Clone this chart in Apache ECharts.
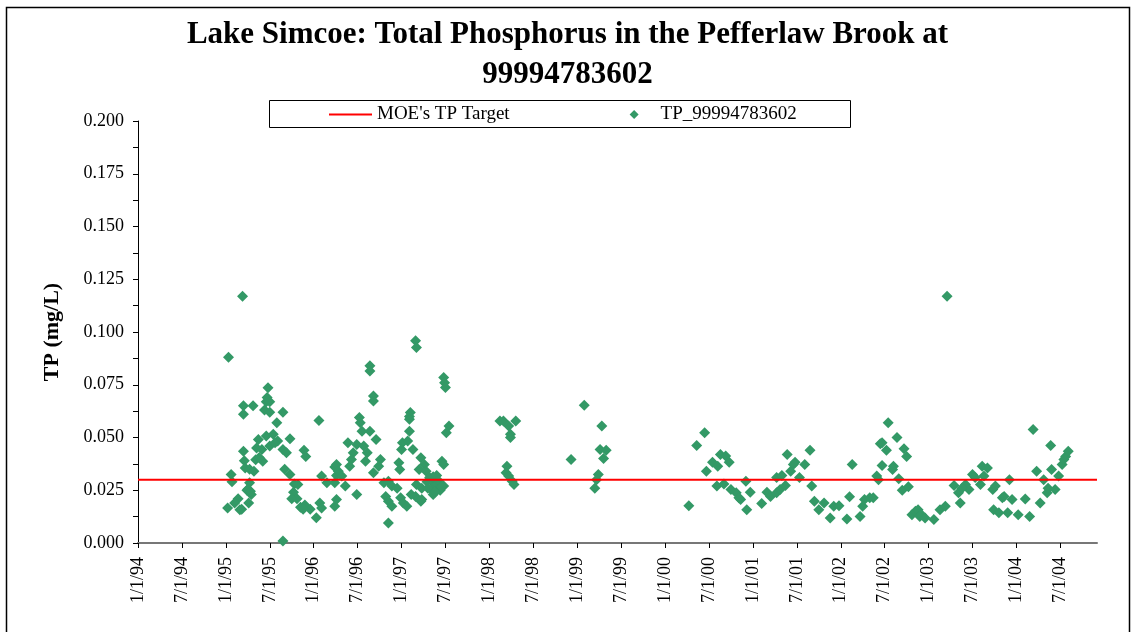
<!DOCTYPE html>
<html>
<head>
<meta charset="utf-8">
<script src="https://cdn.jsdelivr.net/npm/echarts@6/dist/echarts.min.js"></script>
<style>
  html, body { margin: 0; padding: 0; background: #fff; }
  #main { width: 1135px; height: 632px; }
</style>
</head>
<body>
<div id="main"></div>
<script>
  // sample dates as decimal years, TP in mg/L
  var samples1995 = [
    [1995.03, 0.088], [1995.19, 0.117], [1995.20, 0.065], [1995.20, 0.061], [1995.31, 0.065],
    [1995.46, 0.067], [1995.44, 0.063], [1995.50, 0.062], [1995.65, 0.062], [1995.58, 0.057],
    [1995.48, 0.0736], [1995.47, 0.069], [1995.50, 0.067], [1995.37, 0.049], [1995.46, 0.0507],
    [1995.54, 0.0515], [1995.59, 0.0483], [1995.73, 0.0494], [1995.41, 0.0443], [1995.50, 0.046],
    [1995.65, 0.0443], [1995.69, 0.0428], [1995.56, 0.0475], [1995.35, 0.045], [1995.42, 0.0388],
    [1995.20, 0.0435], [1995.21, 0.039], [1995.22, 0.0356], [1995.27, 0.035], [1995.32, 0.034],
    [1995.34, 0.0395], [1995.38, 0.0405], [1995.89, 0.044], [1995.91, 0.041], [1995.06, 0.0325],
    [1995.07, 0.029], [1995.67, 0.035], [1995.73, 0.0325], [1995.78, 0.028], [1995.82, 0.0277],
    [1995.27, 0.0285], [1995.24, 0.025], [1995.29, 0.023], [1995.26, 0.019], [1995.14, 0.021],
    [1995.10, 0.019], [1995.02, 0.0166], [1995.16, 0.0158], [1995.77, 0.024], [1995.81, 0.021],
    [1995.75, 0.021], [1995.90, 0.018], [1995.96, 0.016], [1995.65, 0.001], [1995.25, 0.0255],
    [1995.28, 0.0245], [1995.18, 0.016], [1995.85, 0.017], [1995.88, 0.016]
  ];
  var samples1996 = [
    [1996.03, 0.012], [1996.06, 0.058], [1996.07, 0.019], [1996.09, 0.0317], [1996.09, 0.0166],
    [1996.15, 0.0285], [1996.24, 0.036], [1996.26, 0.032], [1996.24, 0.0174], [1996.26, 0.0372],
    [1996.28, 0.034], [1996.24, 0.0285], [1996.36, 0.027], [1996.26, 0.0206], [1996.32, 0.0317],
    [1996.49, 0.023], [1996.64, 0.084], [1996.64, 0.0815], [1996.68, 0.0697], [1996.68, 0.0673],
    [1996.52, 0.0595], [1996.53, 0.057], [1996.55, 0.053], [1996.64, 0.053], [1996.71, 0.049],
    [1996.39, 0.0475], [1996.49, 0.0467], [1996.57, 0.046], [1996.61, 0.0428], [1996.59, 0.0388],
    [1996.45, 0.0428], [1996.43, 0.0396], [1996.41, 0.0364], [1996.76, 0.0396], [1996.74, 0.0364],
    [1996.68, 0.0333], [1996.80, 0.0285], [1996.85, 0.0293], [1996.89, 0.027], [1996.82, 0.022],
    [1996.85, 0.0198], [1996.89, 0.0174], [1996.99, 0.0214], [1996.95, 0.026], [1996.85, 0.0095],
    [1996.97, 0.038], [1996.98, 0.0348]
  ];
  var samples1997 = [
    [1997.16, 0.0958], [1997.17, 0.0927], [1997.10, 0.0618], [1997.09, 0.060], [1997.09, 0.0586],
    [1997.09, 0.053], [1997.48, 0.0784], [1997.49, 0.076], [1997.50, 0.0737], [1997.54, 0.0554],
    [1997.51, 0.0523], [1997.01, 0.0475], [1997.07, 0.0483], [1997.13, 0.0443], [1997.00, 0.0443],
    [1997.02, 0.019], [1997.06, 0.0174], [1997.22, 0.0404], [1997.26, 0.0372], [1997.20, 0.0348],
    [1997.28, 0.034], [1997.17, 0.0277], [1997.23, 0.026], [1997.22, 0.0198], [1997.16, 0.022],
    [1997.11, 0.023], [1997.32, 0.031], [1997.36, 0.0285], [1997.40, 0.0277], [1997.34, 0.0253],
    [1997.44, 0.025], [1997.48, 0.027], [1997.36, 0.0314], [1997.40, 0.032], [1997.29, 0.029],
    [1997.30, 0.026], [1997.36, 0.023], [1997.46, 0.0388], [1997.48, 0.0372], [1997.23, 0.0206],
    [1997.42, 0.0295], [1997.45, 0.0265], [1997.38, 0.024]
  ];
  var samples1998 = [
    [1998.12, 0.0578], [1998.16, 0.0578], [1998.22, 0.0554], [1998.30, 0.0578], [1998.24, 0.0515],
    [1998.24, 0.050], [1998.20, 0.0364], [1998.19, 0.0333], [1998.22, 0.0317], [1998.26, 0.0293],
    [1998.28, 0.0277], [1998.93, 0.0396]
  ];
  var samples1999 = [
    [1999.08, 0.0653], [1999.28, 0.0554], [1999.26, 0.0443], [1999.33, 0.044], [1999.30, 0.040],
    [1999.24, 0.0325], [1999.22, 0.030], [1999.20, 0.026]
  ];
  var samples2000 = [
    [2000.27, 0.0177], [2000.36, 0.0462], [2000.45, 0.0523], [2000.47, 0.034], [2000.54, 0.0383],
    [2000.60, 0.0364], [2000.63, 0.042], [2000.69, 0.0412], [2000.73, 0.0383], [2000.59, 0.027],
    [2000.67, 0.028], [2000.75, 0.0253], [2000.81, 0.0238], [2000.86, 0.0206], [2000.84, 0.0214],
    [2000.92, 0.0293], [2000.93, 0.0158], [2000.97, 0.024]
  ];
  var samples2001 = [
    [2001.10, 0.0187], [2001.16, 0.024], [2001.20, 0.022], [2001.27, 0.0238], [2001.31, 0.0253],
    [2001.37, 0.0272], [2001.27, 0.031], [2001.33, 0.032], [2001.39, 0.042], [2001.48, 0.0383],
    [2001.43, 0.034], [2001.46, 0.0372], [2001.53, 0.031], [2001.59, 0.0372], [2001.65, 0.044],
    [2001.67, 0.027], [2001.70, 0.0198], [2001.75, 0.0158], [2001.81, 0.019], [2001.88, 0.0119],
    [2001.92, 0.0174], [2001.98, 0.0177]
  ];
  var samples2002 = [
    [2002.07, 0.0114], [2002.10, 0.0219], [2002.13, 0.0372], [2002.22, 0.0126], [2002.25, 0.0174],
    [2002.27, 0.0206], [2002.33, 0.0214], [2002.37, 0.0214], [2002.41, 0.0317], [2002.43, 0.030],
    [2002.47, 0.0367], [2002.45, 0.047], [2002.52, 0.044], [2002.54, 0.057], [2002.64, 0.050],
    [2002.47, 0.0475], [2002.72, 0.0447], [2002.75, 0.041], [2002.60, 0.0364], [2002.59, 0.0348],
    [2002.66, 0.0304], [2002.70, 0.025], [2002.77, 0.0266], [2002.81, 0.0134], [2002.85, 0.015],
    [2002.88, 0.0158], [2002.92, 0.0134], [2002.90, 0.0126], [2002.96, 0.0119]
  ];
  var samples2003 = [
    [2003.06, 0.0111], [2003.13, 0.0158], [2003.19, 0.0174], [2003.21, 0.117], [2003.29, 0.0272],
    [2003.34, 0.0238], [2003.36, 0.019], [2003.42, 0.0277], [2003.46, 0.0253], [2003.50, 0.0325],
    [2003.53, 0.031], [2003.59, 0.0277], [2003.61, 0.0364], [2003.67, 0.0356], [2003.63, 0.0317],
    [2003.38, 0.026], [2003.73, 0.0253], [2003.76, 0.027], [2003.74, 0.0158], [2003.80, 0.0143],
    [2003.84, 0.0214], [2003.90, 0.0143], [2003.92, 0.030], [2003.86, 0.022], [2003.95, 0.0206]
  ];
  var samples2004 = [
    [2004.02, 0.0134], [2004.10, 0.0209], [2004.15, 0.0126], [2004.19, 0.0538], [2004.23, 0.034],
    [2004.27, 0.019], [2004.31, 0.030], [2004.35, 0.0238], [2004.36, 0.026], [2004.40, 0.0348],
    [2004.44, 0.0253], [2004.48, 0.0317], [2004.39, 0.0462], [2004.52, 0.0372], [2004.54, 0.0396],
    [2004.56, 0.041], [2004.59, 0.0435]
  ];

  var tpTarget = 0.03;
  var xStart = 1994;
  var xEnd = 2004.917; // 12/1/04
  var tickLabels = ['1/1/94', '7/1/94', '1/1/95', '7/1/95', '1/1/96', '7/1/96', '1/1/97', '7/1/97',
    '1/1/98', '7/1/98', '1/1/99', '7/1/99', '1/1/00', '7/1/00', '1/1/01', '7/1/01',
    '1/1/02', '7/1/02', '1/1/03', '7/1/03', '1/1/04', '7/1/04'];
  var tickYears = tickLabels.map(function (s, i) { return xStart + i * 0.5; });

  var allSamples = [].concat(samples1995, samples1996, samples1997, samples1998, samples1999,
    samples2000, samples2001, samples2002, samples2003, samples2004);

  var serif = "'Liberation Serif', 'Times New Roman', serif";

  var chart = echarts.init(document.getElementById('main'));
  var option = {
    animation: false,
    backgroundColor: '#fff',
    title: {
      text: 'Lake Simcoe: Total Phosphorus in the Pefferlaw Brook at\n99994783602',
      left: 'center',
      top: 15,
      padding: 0,
      textStyle: { fontFamily: serif, fontWeight: 'bold', fontSize: 31, lineHeight: 40, color: '#000' }
    },
    legend: {
      left: 324,
      top: 100,
      itemWidth: 43,
      itemHeight: 9,
      itemGap: 120,
      textStyle: { fontFamily: serif, fontSize: 19, color: '#000' },
      data: [
        { name: "MOE's TP Target", icon: 'path://M0,0H43V2H0Z' },
        { name: 'TP_99994783602', icon: 'path://M0,-1L1,0L0,1L-1,0Z' }
      ]
    },
    graphic: [
      { type: 'rect', shape: { x: 6.5, y: 7.5, width: 1123, height: 640 }, style: { fill: null, stroke: '#000', lineWidth: 1.5 } },
      { type: 'rect', shape: { x: 269.5, y: 100.5, width: 581, height: 27 }, style: { fill: null, stroke: '#000', lineWidth: 1 } }
    ],
    grid: { left: 138, right: 38, top: 121, bottom: 89 },
    xAxis: {
      type: 'value',
      min: xStart,
      max: xEnd,
      splitLine: { show: false },
      axisLine: { lineStyle: { color: '#777', width: 2 } },
      axisTick: { customValues: tickYears, length: 5, lineStyle: { color: '#000' } },
      axisLabel: {
        customValues: tickYears,
        rotate: 90,
        margin: 14,
        fontFamily: serif,
        fontSize: 18,
        color: '#000',
        formatter: function (v) {
          var i = Math.round((v - xStart) * 2);
          return tickLabels[i] || '';
        }
      }
    },
    yAxis: {
      type: 'value',
      min: 0,
      max: 0.2,
      interval: 0.025,
      name: 'TP (mg/L)',
      nameLocation: 'middle',
      nameGap: 75,
      nameTextStyle: { fontFamily: serif, fontWeight: 'bold', fontSize: 22, color: '#000' },
      splitLine: { show: false },
      axisLine: { show: true, lineStyle: { color: '#000', width: 1 } },
      axisTick: { show: true, length: 5, lineStyle: { color: '#000' } },
      minorTick: { show: true, splitNumber: 2, length: 5, lineStyle: { color: '#000' } },
      axisLabel: {
        margin: 14,
        fontFamily: serif,
        fontSize: 18,
        color: '#000',
        formatter: function (v) { return v.toFixed(3); }
      }
    },
    series: [
      {
        name: "MOE's TP Target",
        type: 'line',
        symbol: 'none',
        color: '#ff0000',
        lineStyle: { color: '#ff0000', width: 2 },
        data: [[xStart, tpTarget], [xEnd, tpTarget]]
      },
      {
        name: 'TP_99994783602',
        type: 'scatter',
        symbol: 'diamond',
        symbolSize: 11,
        color: '#339966',
        itemStyle: { color: '#339966', opacity: 1 },
        data: allSamples
      }
    ]
  };
  chart.setOption(option);
</script>
</body>
</html>
